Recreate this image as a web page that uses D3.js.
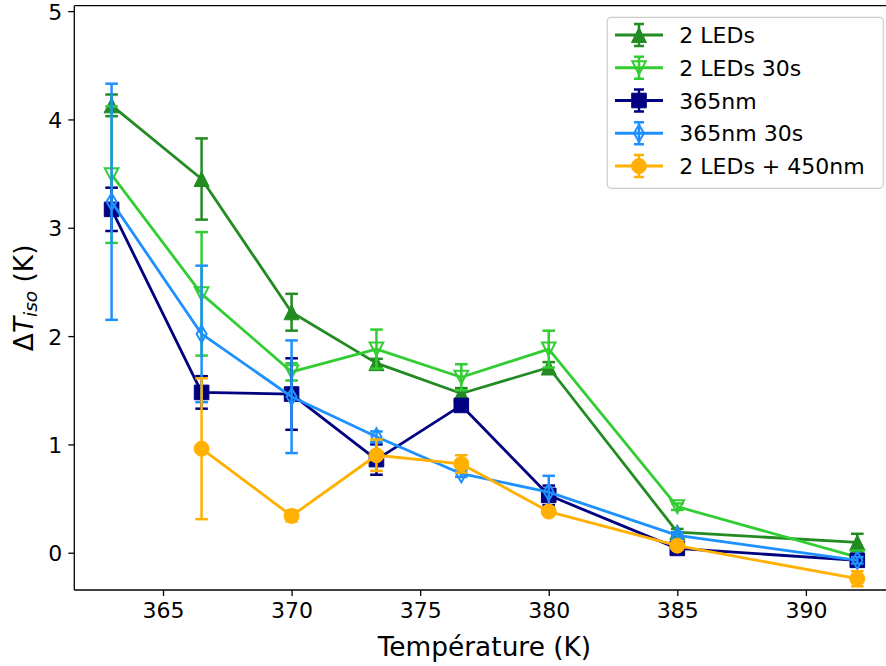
<!DOCTYPE html>
<html>
<head>
<meta charset="utf-8">
<script src="https://cdn.jsdelivr.net/npm/d3@7"></script>
<style>
  html, body { margin: 0; padding: 0; background: #fff; }
  svg { display: block; font-family: "DejaVu Sans", sans-serif; }
</style>
</head>
<body>
<svg id="chart" width="886" height="666"></svg>
<script>
// ---- data ----
const temps = [363, 366.5, 370, 373.3, 376.6, 380, 385, 392];
const leds2 = [4.13, 3.45, 2.22, 1.75, 1.47, 1.71, 0.19, 0.095];
const leds2Err = [0.10, 0.375, 0.17, 0.04, 0.05, 0.05, 0.03, 0.08];
const leds2_30s = [3.49, 2.39, 1.67, 1.88, 1.62, 1.88, 0.425, -0.04];
const leds2_30sErr = [0.63, 0.57, 0.08, 0.18, 0.12, 0.17, 0.03, 0.03];
const nm365 = [3.17, 1.48, 1.465, 0.86, 1.36, 0.53, 0.04, -0.07];
const nm365Err = [0.20, 0.15, 0.33, 0.14, 0.04, 0.09, 0.03, 0.03];
const nm365_30s = [3.24, 2.02, 1.44, 1.07, 0.73, 0.56, 0.16, -0.07];
const nm365_30sErr = [1.09, 0.63, 0.52, 0.05, 0.03, 0.15, 0.03, 0.03];
const leds450 = [null, 0.96, 0.34, 0.90, 0.82, 0.38, 0.065, -0.24];
const leds450Err = [null, 0.65, 0.05, 0.145, 0.08, 0.03, 0.03, 0.07];
const seriesNames = ["2 LEDs", "2 LEDs 30s", "365nm", "365nm 30s", "2 LEDs + 450nm"];
const xTicks = [365, 370, 375, 380, 385, 390];
const yTicks = [0, 1, 2, 3, 4, 5];
const xLabel = "Température (K)";

const series = [
  { name: seriesNames[0], y: leds2, e: leds2Err, color: "#228B22", marker: "triUp", fill: true },
  { name: seriesNames[1], y: leds2_30s, e: leds2_30sErr, color: "#32CD32", marker: "triDown", fill: false },
  { name: seriesNames[2], y: nm365, e: nm365Err, color: "#000080", marker: "square", fill: true },
  { name: seriesNames[3], y: nm365_30s, e: nm365_30sErr, color: "#1E90FF", marker: "thinDiamond", fill: false },
  { name: seriesNames[4], y: leds450, e: leds450Err, color: "#FFB000", marker: "circle", fill: true }
];

// ---- layout ----
const svg = d3.select("#chart");
const L = 74.3, T = 5.7, B = 590;
const x = d3.scaleLinear().domain([361.55, 393.45]).range([L, 894.6]);
const y = d3.scaleLinear().domain([-0.344, 5.05]).range([B, T]);

function markerPath(type) {
  switch (type) {
    case "triUp": return "M0,-7.5L7.5,7.5L-7.5,7.5Z";
    case "triDown": return "M0,6.5L6.8,-6.5L-6.8,-6.5Z";
    case "square": return "M-7.3,-7.3H7.3V7.3H-7.3Z";
    case "thinDiamond": return "M0,-8.5L5,0L0,8.5L-5,0Z";
    case "circle": return "M7.5,0A7.5,7.5 0 1,1 -7.5,0A7.5,7.5 0 1,1 7.5,0Z";
  }
}

const plot = svg.append("g");
const capW = 6.3;

series.forEach(s => {
  const pts = temps.map((t, i) => ({ t, v: s.y[i], e: s.e[i] })).filter(d => d.v !== null);
  const g = plot.append("g");
  // error bars
  pts.forEach(d => {
    const cx = x(d.t), y1 = y(d.v + d.e), y2 = y(d.v - d.e);
    g.append("line").attr("x1", cx).attr("x2", cx).attr("y1", y1).attr("y2", y2)
      .attr("stroke", s.color).attr("stroke-width", 2.5);
    [y1, y2].forEach(yy => g.append("line").attr("x1", cx - capW).attr("x2", cx + capW)
      .attr("y1", yy).attr("y2", yy).attr("stroke", s.color).attr("stroke-width", 2.5));
  });
  // line
  g.append("path").datum(pts)
    .attr("d", d3.line().x(d => x(d.t)).y(d => y(d.v)))
    .attr("fill", "none").attr("stroke", s.color).attr("stroke-width", 2.8)
    .attr("stroke-linejoin", "round");
  // markers
  g.selectAll(".m").data(pts).enter().append("path")
    .attr("transform", d => `translate(${x(d.t)},${y(d.v)})`)
    .attr("d", markerPath(s.marker))
    .attr("fill", s.fill ? s.color : "none")
    .attr("stroke", s.color).attr("stroke-width", s.fill ? 1 : 2);
});

// ---- axes ----
const xAxis = d3.axisBottom(x).tickValues(xTicks).tickSize(6).tickPadding(5).tickFormat(d3.format("d"));
const yAxis = d3.axisLeft(y).tickValues(yTicks).tickSize(6).tickPadding(6).tickFormat(d3.format("d"));
const gx = svg.append("g").attr("transform", `translate(0,${B})`).call(xAxis);
const gy = svg.append("g").attr("transform", `translate(${L},0)`).call(yAxis);
[gx, gy].forEach(g => {
  g.select(".domain").remove();
  g.selectAll(".tick line").attr("stroke", "#000").attr("stroke-width", 1.3);
  g.selectAll(".tick text").attr("font-size", 22).attr("fill", "#000")
    .attr("font-family", "DejaVu Sans");
});
gx.selectAll(".tick text").attr("dy", "0.75em");
gy.selectAll(".tick text").attr("dy", "0.36em");

// spines
svg.append("line").attr("x1", L).attr("x2", L).attr("y1", T).attr("y2", B).attr("stroke", "#000").attr("stroke-width", 1.3);
svg.append("line").attr("x1", L).attr("x2", 886).attr("y1", B).attr("y2", B).attr("stroke", "#000").attr("stroke-width", 1.3);
svg.append("line").attr("x1", L).attr("x2", 886).attr("y1", T).attr("y2", T).attr("stroke", "#000").attr("stroke-width", 1.3);

// axis labels
svg.append("text").attr("x", (L + 894.6) / 2).attr("y", 656).attr("text-anchor", "middle")
  .attr("font-size", 26.4).attr("fill", "#000").text(xLabel);

const yl = svg.append("text").attr("transform", `translate(33,${(T + B) / 2}) rotate(-90)`)
  .attr("text-anchor", "middle").attr("font-size", 26.4).attr("fill", "#000");
yl.append("tspan").text("Δ");
yl.append("tspan").attr("font-style", "italic").text("T");
yl.append("tspan").attr("font-style", "italic").attr("font-size", 18.5).attr("dy", 4).text("iso");
yl.append("tspan").attr("dy", -4).text(" (K)");

// ---- legend ----
const lg = svg.append("g");
lg.append("rect").attr("x", 607.3).attr("y", 17.3).attr("width", 276).attr("height", 171)
  .attr("rx", 4).attr("fill", "#fff").attr("fill-opacity", 0.8)
  .attr("stroke", "#ccc").attr("stroke-width", 1.2);
series.forEach((s, i) => {
  const cy = 35 + i * 32.75;
  const g = lg.append("g");
  g.append("line").attr("x1", 615).attr("x2", 663).attr("y1", cy).attr("y2", cy)
    .attr("stroke", s.color).attr("stroke-width", 2.8);
  g.append("line").attr("x1", 639).attr("x2", 639).attr("y1", cy - 11).attr("y2", cy + 11)
    .attr("stroke", s.color).attr("stroke-width", 2.5);
  [cy - 11, cy + 11].forEach(yy => g.append("line").attr("x1", 639 - 5).attr("x2", 639 + 5)
    .attr("y1", yy).attr("y2", yy).attr("stroke", s.color).attr("stroke-width", 2.5));
  g.append("path").attr("transform", `translate(639,${cy})`).attr("d", markerPath(s.marker))
    .attr("fill", s.fill ? s.color : "none").attr("stroke", s.color).attr("stroke-width", s.fill ? 1 : 2);
  g.append("text").attr("x", 679.3).attr("y", cy + 8).attr("font-size", 22).attr("fill", "#000").text(s.name);
});
</script>
</body>
</html>
